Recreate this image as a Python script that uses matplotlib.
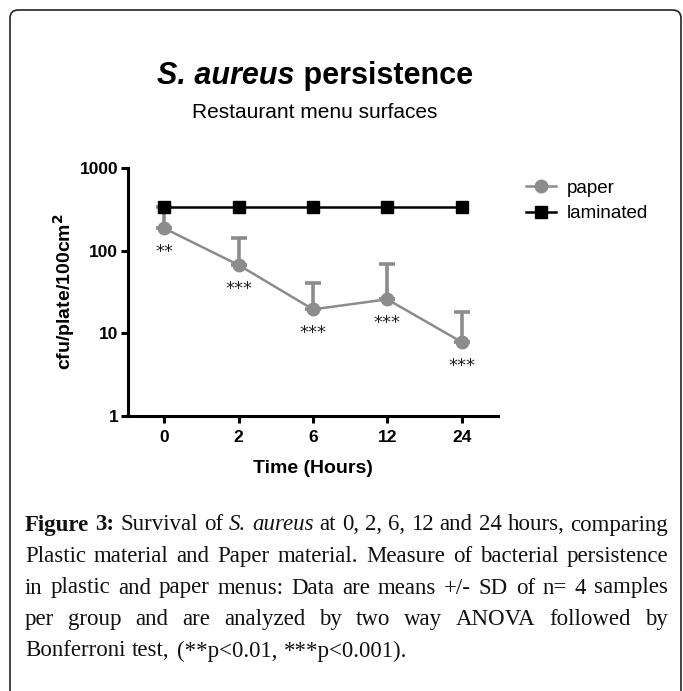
import matplotlib
matplotlib.use('Agg')

import matplotlib.pyplot as plt
from matplotlib.patches import FancyBboxPatch
import numpy as np

# data
times = ['0', '2', '6', '12', '24']
paper = [186, 67, 19.5, 25.8, 7.85]
paper_sd_top = [340, 143, 41, 69.5, 18.1]
laminated = [340, 340, 340, 340, 340]
stars = ['**', '***', '***', '***', '***']

caption_lines = [
    [('Figure', 'bold', 'normal'), ('3:', 'bold', 'normal'), ('Survival', 'normal', 'normal'),
     ('of', 'normal', 'normal'), ('S.', 'normal', 'italic'), ('aureus', 'normal', 'italic'),
     ('at', 'normal', 'normal'), ('0,', 'normal', 'normal'), ('2,', 'normal', 'normal'),
     ('6,', 'normal', 'normal'), ('12', 'normal', 'normal'), ('and', 'normal', 'normal'),
     ('24', 'normal', 'normal'), ('hours,', 'normal', 'normal'), ('comparing', 'normal', 'normal')],
    'Plastic material and Paper material. Measure of bacterial persistence',
    'in plastic and paper menus: Data are means +/- SD of n= 4 samples',
    'per group and are analyzed by two way ANOVA followed by',
    'Bonferroni test, (**p<0.01, ***p<0.001).',
]

W, H = 683, 691
fig = plt.figure(figsize=(W / 100, H / 100), dpi=100)
fig.patch.set_facecolor('white')

# rounded frame, bottom runs off the page
frame = FancyBboxPatch((10 / W, -0.05), 671 / W, 1 - 10 / H + 0.05,
                       boxstyle='round,pad=0,rounding_size=0.012',
                       transform=fig.transFigure, fill=False, lw=1.2, ec='#222222')
fig.patches.append(frame)

ax = fig.add_axes([128 / W, 1 - 416 / H, 370 / W, 248 / H])
x = np.arange(len(times))
gray = '#8c8c8c'

lower = np.zeros(len(paper))
upper = np.array(paper_sd_top) - np.array(paper)
ax.errorbar(x, paper, yerr=[lower, upper], fmt='none', ecolor=gray,
            elinewidth=2.6, capsize=6, capthick=2.6, zorder=2)
ax.plot(x, paper, '-o', color=gray, lw=1.8, ms=9, label='paper', zorder=3)
ax.plot(x, laminated, '-s', color='black', lw=1.8, ms=9, label='laminated', zorder=4)

for xi, yi, s in zip(x, paper, stars):
    ax.annotate(s, (xi, yi), xytext=(0, -17), textcoords='offset points',
                ha='center', va='center', fontsize=13, color='#222222')

ax.set_yscale('log')
ax.set_ylim(1, 1000)
ax.set_xlim(-0.49, 4.49)
ax.set_yticks([1, 10, 100, 1000])
ax.set_yticklabels(['1', '10', '100', '1000'])
ax.minorticks_off()
ax.set_xticks(x)
ax.set_xticklabels(times)
for sp in ['top', 'right']:
    ax.spines[sp].set_visible(False)
for sp in ['left', 'bottom']:
    ax.spines[sp].set_linewidth(2.2)
ax.tick_params(width=2.2, length=5, labelsize=12.5, pad=2)
ax.tick_params(axis='x', pad=5)
for lab in ax.get_xticklabels() + ax.get_yticklabels():
    lab.set_fontweight('bold')
    lab.set_family('Liberation Sans')
ax.set_xlabel('Time (Hours)', fontsize=14, fontweight='bold', family='Liberation Sans', labelpad=11)
ax.set_ylabel('cfu/plate/100cm$^\\mathbf{2}$', fontsize=14, fontweight='bold',
              family='Liberation Sans', labelpad=2)

fig.legend(loc='upper left', bbox_to_anchor=(518 / W, 1 - 172 / H), frameon=False,
           prop={'family': 'Liberation Sans', 'size': 13.5}, handlelength=1.6,
           handletextpad=0.6, labelspacing=0.45, borderaxespad=0)

# titles
r = fig.canvas.get_renderer()
ty = 1 - 76 / H
t1 = fig.text(0, ty, 'S. aureus', fontsize=22, fontweight='bold', style='italic',
              family='Liberation Sans', va='center')
t2 = fig.text(0, ty, ' persistence', fontsize=22, fontweight='bold',
              family='Liberation Sans', va='center')
w1 = t1.get_window_extent(r).width
w2 = t2.get_window_extent(r).width
x0 = 315 - (w1 + w2) / 2
t1.set_x(x0 / W)
t2.set_x((x0 + w1) / W)
fig.text(315 / W, 1 - 113 / H, 'Restaurant menu surfaces', fontsize=15,
         family='Liberation Sans', ha='center', va='center')

# justified caption
left, right = 25, 668
line_y0, step = 525, 31.5
fs = 16.5
for i, line in enumerate(caption_lines):
    if isinstance(line, str):
        words = [(w_, 'normal', 'normal') for w_ in line.split(' ')]
    else:
        words = line
    y = 1 - (line_y0 + i * step) / H
    texts = [fig.text(0, y, w_, fontsize=fs, fontweight=wt, style=st,
                      family='Liberation Serif', va='center', color='#111111')
             for (w_, wt, st) in words]
    widths = [t.get_window_extent(r).width for t in texts]
    if i == len(caption_lines) - 1:
        gapw = fs * 0.3 * 100 / 72
    else:
        gapw = (right - left - sum(widths)) / (len(words) - 1)
    cx = left
    for t, wd in zip(texts, widths):
        t.set_x(cx / W)
        cx += wd + gapw

fig.savefig('out.png', dpi=100, facecolor='white')
